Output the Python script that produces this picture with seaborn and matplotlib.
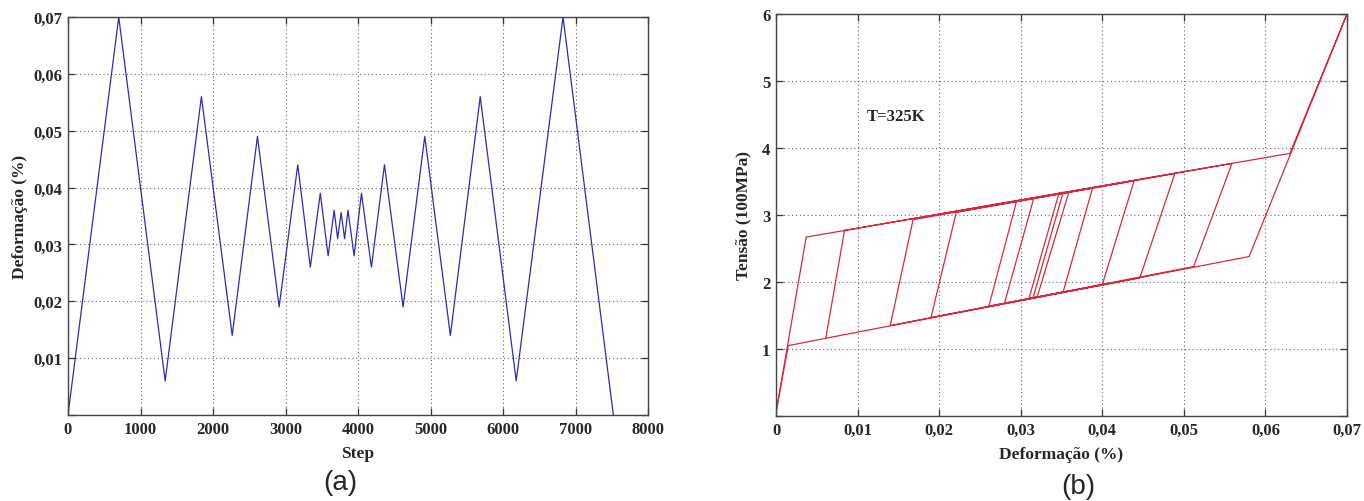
import matplotlib
matplotlib.use("Agg")
import matplotlib.pyplot as plt
import seaborn as sns
import pandas as pd

# ---- data: panel (a) strain history ----
steps = [0, 700, 1340, 1840, 2265, 2613, 2912, 3169, 3342, 3480, 3588, 3671,
         3719, 3767, 3815, 3862, 3946, 4048, 4185, 4365, 4622, 4921, 5274,
         5686, 6182, 6828, 7522]
strain_hist = [0.0, 0.070, 0.006, 0.056, 0.014, 0.049, 0.019, 0.044, 0.026,
               0.039, 0.028, 0.036, 0.031, 0.0356, 0.031, 0.036, 0.028,
               0.039, 0.026, 0.044, 0.019, 0.049, 0.014, 0.056, 0.006,
               0.070, 0.0]

# ---- data: panel (b) stress-strain loop (path vertices, first pass) ----
loop_strain = [0.0000, 0.0037, 0.0630, 0.0700, 0.0580, 0.0061, 0.0084, 0.0559,
               0.0512, 0.0140, 0.0168, 0.0489, 0.0446, 0.0190, 0.0221, 0.0439,
               0.0400, 0.0261, 0.0295, 0.0388, 0.0352, 0.0280, 0.0316, 0.0359,
               0.0320, 0.0310, 0.0347, 0.0352, 0.0315, 0.0310]
loop_stress = [0.05, 2.67, 3.92, 6.00, 2.38, 1.16, 2.77, 3.77,
               2.23, 1.35, 2.93, 3.62, 2.06, 1.47, 3.04, 3.51,
               1.96, 1.64, 3.21, 3.40, 1.85, 1.68, 3.25, 3.34,
               1.77, 1.75, 3.33, 3.34, 1.76, 1.75]
# final unloading tail along the lower branch back to zero strain
tail_strain = [0.0061, 0.0015, 0.0000]
tail_stress = [1.16, 1.05, 0.05]

# ---- ticks / labels ----
a_xticks = [0, 1000, 2000, 3000, 4000, 5000, 6000, 7000, 8000]
a_xticklabels = ["0", "1000", "2000", "3000", "4000", "5000", "6000", "7000", "8000"]
a_yticks = [0.0, 0.01, 0.02, 0.03, 0.04, 0.05, 0.06, 0.07]
a_yticklabels = ["", "0,01", "0,02", "0,03", "0,04", "0,05", "0,06", "0,07"]
b_xticks = [0, 0.01, 0.02, 0.03, 0.04, 0.05, 0.06, 0.07]
b_xticklabels = ["0", "0,01", "0,02", "0,03", "0,04", "0,05", "0,06", "0,07"]
b_yticks = [0, 1, 2, 3, 4, 5, 6]
b_yticklabels = ["", "1", "2", "3", "4", "5", "6"]

sns.set_style("white")
plt.rcParams["font.family"] = ["Liberation Serif", "DejaVu Serif"]

fig = plt.figure(figsize=(13.64, 5.02), dpi=100)
axa = fig.add_axes([68 / 1364, 86 / 502, 580 / 1364, 398 / 502])
axb = fig.add_axes([776 / 1364, 85 / 502, 571 / 1364, 402 / 502])

dfa = pd.DataFrame({"step": steps, "strain": strain_hist})
sns.lineplot(data=dfa, x="step", y="strain", ax=axa, sort=False,
             estimator=None, color="#2c2cb4", linewidth=0.9)
dfb = pd.DataFrame({"strain": loop_strain, "stress": loop_stress})
sns.lineplot(data=dfb, x="strain", y="stress", ax=axb, sort=False,
             estimator=None, color="#d8283f", linewidth=0.9)
dft = pd.DataFrame({"strain": tail_strain, "stress": tail_stress})
sns.lineplot(data=dft, x="strain", y="stress", ax=axb, sort=False,
             estimator=None, color="#d8283f", linewidth=0.9)

tick_font = dict(fontsize=12, fontweight="bold")

def style(ax, xt, xtl, yt, ytl, xlim, ylim):
    ax.set_xlim(*xlim)
    ax.set_ylim(*ylim)
    ax.set_xticks(xt)
    ax.set_xticklabels(xtl, **tick_font)
    ax.set_yticks(yt)
    ax.set_yticklabels(ytl, **tick_font)
    ax.grid(True, color="#666666", linestyle=(0, (1, 2.5)), linewidth=0.8)
    ax.tick_params(direction="in", length=5, width=0.9, color="#333333",
                   top=True, right=True, bottom=True, left=True, pad=4)
    for s in ax.spines.values():
        s.set_color("#444444")
        s.set_linewidth(1.0)

style(axa, a_xticks, a_xticklabels, a_yticks, a_yticklabels, (0, 8000), (0, 0.07))
style(axb, b_xticks, b_xticklabels, b_yticks, b_yticklabels, (0, 0.07), (0, 6))

axa.set_xlabel("Step", fontsize=12.5, fontweight="bold", labelpad=6)
axa.set_ylabel("Deformação (%)", fontsize=12.5, fontweight="bold", labelpad=4)
axb.set_xlabel("Deformação (%)", fontsize=12.5, fontweight="bold", labelpad=6)
axb.set_ylabel("Tensão (100MPa)", fontsize=12.5, fontweight="bold", labelpad=8)

axb.text(0.0111, 4.48, "T=325K", fontsize=12, fontweight="bold",
         ha="left", va="center")

fig.text(340 / 1364, 1 - 483 / 502, "(a)", fontsize=20,
         family=["Liberation Sans"], ha="center", va="center")
fig.text(1078 / 1364, 1 - 487 / 502, "(b)", fontsize=20,
         family=["Liberation Sans"], ha="center", va="center")

fig.savefig("out.png", dpi=100, facecolor="white")
